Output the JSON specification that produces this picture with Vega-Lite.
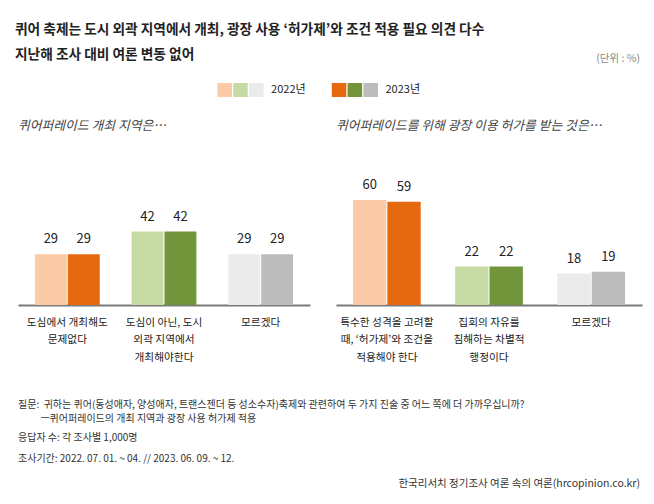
{
  "$schema": "https://vega.github.io/schema/vega-lite/v6.json",
  "background": "white",
  "padding": {"left": 15, "top": 23, "right": 11, "bottom": 10},
  "spacing": 38,
  "resolve": {"scale": {"x": "independent", "xOffset": "independent", "y": "independent", "color": "independent"}},
  "title": {
    "text": ["퀴어 축제는 도시 외곽 지역에서 개최, 광장 사용 ‘허가제’와 조건 적용 필요 의견 다수", "지난해 조사 대비 여론 변동 없어"],
    "anchor": "start",
    "fontSize": 13.7,
    "fontWeight": "bold",
    "color": "#222222",
    "lineHeight": 25,
    "offset": -8,
    "dx": -3,
    "font": "Noto Sans CJK KR"
  },
  "config": {
    "view": {"stroke": null},
    "font": "Noto Sans CJK KR",
    "axis": {"labelFont": "Noto Sans CJK KR"}
  },
  "datasets": {
    "bars": [
      {"panel": "L", "answer": "도심에서 개최해도|문제없다", "opt": "A", "year": "2022", "value": 29},
      {"panel": "L", "answer": "도심에서 개최해도|문제없다", "opt": "A", "year": "2023", "value": 29},
      {"panel": "L", "answer": "도심이 아닌, 도시|외곽 지역에서|개최해야한다", "opt": "B", "year": "2022", "value": 42},
      {"panel": "L", "answer": "도심이 아닌, 도시|외곽 지역에서|개최해야한다", "opt": "B", "year": "2023", "value": 42},
      {"panel": "L", "answer": "모르겠다", "opt": "C", "year": "2022", "value": 29},
      {"panel": "L", "answer": "모르겠다", "opt": "C", "year": "2023", "value": 29},
      {"panel": "R", "answer": "특수한 성격을 고려할|때, ‘허가제’와 조건을|적용해야 한다", "opt": "A", "year": "2022", "value": 60},
      {"panel": "R", "answer": "특수한 성격을 고려할|때, ‘허가제’와 조건을|적용해야 한다", "opt": "A", "year": "2023", "value": 59},
      {"panel": "R", "answer": "집회의 자유를|침해하는 차별적|행정이다", "opt": "B", "year": "2022", "value": 22},
      {"panel": "R", "answer": "집회의 자유를|침해하는 차별적|행정이다", "opt": "B", "year": "2023", "value": 22},
      {"panel": "R", "answer": "모르겠다", "opt": "C", "year": "2022", "value": 18},
      {"panel": "R", "answer": "모르겠다", "opt": "C", "year": "2023", "value": 19}
    ],
    "legend": [
      {"year": "2022", "opt": "A"},
      {"year": "2022", "opt": "B"},
      {"year": "2022", "opt": "C"},
      {"year": "2022", "opt": "L", "label": "2022년"},
      {"year": "2023", "opt": "A"},
      {"year": "2023", "opt": "B"},
      {"year": "2023", "opt": "C"},
      {"year": "2023", "opt": "L", "label": "2023년"}
    ],
    "notes": [
      {"item": "n", "note": "응답자 수: 각 조사별 1,000명"},
      {"item": "p", "note": "조사기간: 2022. 07. 01. ~ 04. // 2023. 06. 09. ~ 12."},
      {"item": "src", "note": "한국리서치 정기조사 여론 속의 여론(hrcopinion.co.kr)"}
    ]
  },
  "vconcat": [
    {
      "spacing": 22,
      "resolve": {"scale": {"x": "independent", "xOffset": "independent", "y": "independent", "color": "independent"}},
      "vconcat": [
        {
          "width": 622,
          "height": 14,
          "data": {"name": "legend"},
          "transform": [{"calculate": "datum.opt + datum.year", "as": "key"}],
          "title": {"text": "(단위 : %)", "anchor": "end", "fontSize": 10.5, "fontWeight": "normal", "color": "#888888", "offset": 18.7},
          "encoding": {
            "x": {"field": "year", "type": "nominal", "axis": null,
              "scale": {"domain": ["pre", "2022", "2023", "post"], "paddingInner": 0.458, "paddingOuter": 0.948, "align": 0.392}},
            "xOffset": {"field": "opt", "type": "nominal", "scale": {"domain": ["A", "B", "C", "L"], "paddingInner": 0.08, "paddingOuter": 0}}
          },
          "layer": [
            {
              "transform": [{"filter": "datum.opt != 'L'"}],
              "mark": {"type": "bar"},
              "encoding": {
                "color": {"field": "key", "type": "nominal", "legend": null,
                  "scale": {"domain": ["A2022", "A2023", "B2022", "B2023", "C2022", "C2023"], "range": ["#fbcaa6", "#e4690f", "#c6dba3", "#72943a", "#ebebeb", "#bcbcbc"]}}
              }
            },
            {
              "transform": [{"filter": "datum.opt == 'L'"}],
              "mark": {"type": "text", "align": "left", "baseline": "middle", "dx": -1, "fontSize": 11, "color": "#222222"},
              "encoding": {"text": {"field": "label", "type": "nominal"}}
            }
          ]
        },
        {
          "hconcat": [
            {
              "width": 292,
              "height": 140,
              "data": {"name": "bars"},
              "transform": [{"filter": "datum.panel == 'L'"}, {"calculate": "datum.opt + datum.year", "as": "key"}],
              "title": {"text": "퀴어퍼레이드 개최 지역은…", "anchor": "start", "fontStyle": "italic", "fontSize": 12.8, "fontWeight": "normal", "color": "#444444", "offset": 32.3},
              "encoding": {
                "x": {"field": "answer", "type": "nominal", "sort": null, "title": null,
                  "scale": {"paddingInner": 0.33, "paddingOuter": 0.175},
                  "axis": {"labelAngle": 0, "labelExpr": "split(datum.label, '|')", "domainColor": "#7a7a7a", "domainWidth": 2, "ticks": false, "labelPadding": 12, "labelFontSize": 10.7, "labelColor": "#222222", "labelLineHeight": 17.6, "labelLimit": 0}},
                "xOffset": {"field": "year", "type": "nominal", "scale": {"paddingInner": 0.03}},
                "y": {"field": "value", "type": "quantitative", "stack": null, "scale": {"domain": [0, 80]}, "axis": null}
              },
              "layer": [
                {
                  "mark": {"type": "bar"},
                  "encoding": {
                    "color": {"field": "key", "type": "nominal", "legend": null,
                      "scale": {"domain": ["A2022", "A2023", "B2022", "B2023", "C2022", "C2023"], "range": ["#fbcaa6", "#e4690f", "#c6dba3", "#72943a", "#ebebeb", "#bcbcbc"]}}
                  }
                },
                {
                  "mark": {"type": "text", "baseline": "alphabetic", "dy": -11, "fontSize": 13, "color": "#222222"},
                  "encoding": {"text": {"field": "value", "type": "quantitative"}}
                }
              ]
            },
            {
              "width": 306,
              "height": 140,
              "data": {"name": "bars"},
              "transform": [{"filter": "datum.panel == 'R'"}, {"calculate": "datum.opt + datum.year", "as": "key"}],
              "title": {"text": "퀴어퍼레이드를 위해  광장 이용 허가를 받는 것은…", "anchor": "start", "fontStyle": "italic", "fontSize": 12.8, "fontWeight": "normal", "color": "#444444", "offset": 32.3},
              "encoding": {
                "x": {"field": "answer", "type": "nominal", "sort": null, "title": null,
                  "scale": {"paddingInner": 0.337, "paddingOuter": 0.166},
                  "axis": {"labelAngle": 0, "labelExpr": "split(datum.label, '|')", "domainColor": "#7a7a7a", "domainWidth": 2, "ticks": false, "labelPadding": 12, "labelFontSize": 10.7, "labelColor": "#222222", "labelLineHeight": 17.6, "labelLimit": 0}},
                "xOffset": {"field": "year", "type": "nominal", "scale": {"paddingInner": 0.03}},
                "y": {"field": "value", "type": "quantitative", "stack": null, "scale": {"domain": [0, 80]}, "axis": null}
              },
              "layer": [
                {
                  "mark": {"type": "bar"},
                  "encoding": {
                    "color": {"field": "key", "type": "nominal", "legend": null,
                      "scale": {"domain": ["A2022", "A2023", "B2022", "B2023", "C2022", "C2023"], "range": ["#fbcaa6", "#e4690f", "#c6dba3", "#72943a", "#ebebeb", "#bcbcbc"]}}
                  }
                },
                {
                  "mark": {"type": "text", "baseline": "alphabetic", "dy": -11, "fontSize": 13, "color": "#222222"},
                  "encoding": {"text": {"field": "value", "type": "quantitative"}}
                }
              ]
            }
          ],
          "spacing": 26,
          "resolve": {"scale": {"x": "independent", "xOffset": "independent", "y": "independent", "color": "independent"}}
        }
      ]
    },
    {
      "width": 622,
      "height": 42,
      "data": {"name": "notes"},
      "title": {"text": ["질문:\u00a0\u00a0귀하는 퀴어(동성애자, 양성애자, 트랜스젠더 등 성소수자)축제와 관련하여 두 가지 진술 중 어느 쪽에 더 가까우십니까?", "\u200b\u00a0\u00a0\u00a0\u00a0\u00a0\u00a0\u00a0\u00a0\u00a0\u00a0ㅡ퀴어퍼레이드의 개최 지역과 광장 사용 허가제 적용"], "anchor": "start", "fontSize": 10, "fontWeight": "normal", "color": "#333333", "lineHeight": 14, "offset": 9},
      "encoding": {
        "y": {"field": "item", "type": "nominal", "sort": null, "scale": {"type": "point", "padding": 0}, "axis": null},
        "text": {"field": "note", "type": "nominal"}
      },
      "layer": [
        {
          "transform": [{"filter": "datum.item != 'src'"}],
          "mark": {"type": "text", "align": "left", "baseline": "middle", "fontSize": 10, "color": "#333333"},
          "encoding": {"x": {"value": 0}}
        },
        {
          "transform": [{"filter": "datum.item == 'src'"}],
          "mark": {"type": "text", "align": "right", "baseline": "middle", "dy": 4, "fontSize": 10.5, "color": "#333333"},
          "encoding": {"x": {"value": "width"}}
        }
      ]
    }
  ]
}
